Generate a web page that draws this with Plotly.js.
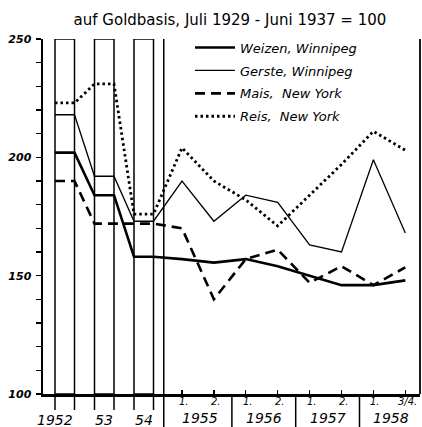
<!DOCTYPE html>
<html>
<head>
<meta charset="utf-8">
<script src="https://cdn.plot.ly/plotly-3.0.1.min.js"></script>
<style>html,body{margin:0;padding:0;background:#fff}#chart{width:422px;height:427px}</style>
</head>
<body>
<div id="chart"></div>
<script>
// ---- data ----
const years = ['1952', '53', '54'];
const halfLabels = ['1.', '2.', '1.', '2.', '1.', '2.', '1.', '3/4.'];
const halfGroups = ['1955', '1956', '1957', '1958'];

const weizenYear = [202, 184, 158];
const weizenHalf = [157, 155.5, 157, 154, 150, 146, 146, 148];
const gersteYear = [218, 192, 173];
const gersteHalf = [190, 173, 184, 181, 163, 160, 199, 168];
const maisYear = [190, 172, 172];
const maisHalf = [170, 140, 157, 161, 147, 154, 146, 153.5];
const reisYear = [223, 231, 176];
const reisHalf = [204, 190, 182, 171, 184, 197, 211, 203];

const seriesNames = ['Weizen, Winnipeg', 'Gerste, Winnipeg', 'Mais,  New York', 'Reis,  New York'];

const yTickValues = [100, 110, 120, 130, 140, 150, 160, 170, 180, 190, 200, 210, 220, 230, 240, 250];

// ---- layout helpers (positions along the x scale) ----
const BAR0 = 12, BAR_STEP = 39.5, BAR_W = 19.5;
const H0 = 139, H_STEP = 31.9;
const barL = i => BAR0 + BAR_STEP * i;
const barR = i => barL(i) + BAR_W;
const barC = i => barL(i) + BAR_W / 2;
const hx = j => H0 + H_STEP * j;

function buildSeries(yearVals, halfVals) {
  const x = [], y = [];
  yearVals.forEach((v, i) => { x.push(barL(i), barR(i)); y.push(v, v); });
  halfVals.forEach((v, j) => { x.push(hx(j)); y.push(v); });
  return {x, y};
}

const styles = [
  {width: 2.6, dash: 'solid'},
  {width: 1.3, dash: 'solid'},
  {width: 2.6, dash: '10px,6px'},
  {width: 2.8, dash: '2.5px,3px'}
];
const allData = [[weizenYear, weizenHalf], [gersteYear, gersteHalf], [maisYear, maisHalf], [reisYear, reisHalf]];

const traces = [];
traces.push({
  type: 'bar',
  x: years.map((_, i) => barC(i)),
  y: years.map(() => 150),
  base: years.map(() => 100),
  width: BAR_W,
  marker: {color: 'white', line: {color: 'black', width: 1.5}},
  showlegend: false,
  hoverinfo: 'skip',
  cliponaxis: false
});
allData.forEach((d, k) => {
  const s = buildSeries(d[0], d[1]);
  traces.push({
    type: 'scatter', mode: 'lines',
    x: s.x, y: s.y, name: seriesNames[k],
    legendgroup: 'g' + k,
    line: {color: 'black', width: styles[k].width, dash: styles[k].dash},
    cliponaxis: false
  });
});

const labelFont = {family: 'DejaVu Sans', size: 14, color: 'black', style: 'italic'};
const annotations = [];
years.forEach((t, i) => {
  annotations.push({
    text: t, xref: 'x', yref: 'paper', x: i === 0 ? barR(i) : barC(i), y: 0,
    xanchor: i === 0 ? 'right' : 'center', yanchor: 'middle', yshift: -26,
    showarrow: false, font: labelFont
  });
});
halfLabels.forEach((t, j) => {
  annotations.push({
    text: t, xref: 'x', yref: 'paper', x: hx(j) + 2, y: 0,
    xanchor: 'center', yanchor: 'middle', yshift: -7,
    showarrow: false, font: {family: 'DejaVu Sans', size: 10, color: 'black', style: 'italic'}
  });
});
halfGroups.forEach((t, g) => {
  annotations.push({
    text: t, xref: 'x', yref: 'paper', x: (hx(2 * g) + hx(2 * g + 1)) / 2 + 2, y: 0,
    xanchor: 'center', yanchor: 'middle', yshift: -24,
    showarrow: false, font: labelFont
  });
});

const shapes = [];
years.forEach((_, i) => {
  [barL(i), barR(i)].forEach(xv => shapes.push({
    type: 'line', xref: 'x', yref: 'paper', x0: xv, x1: xv, y0: 0, y1: -0.045,
    line: {color: 'black', width: 1.5}
  }));
});
// separator between years and half-years, full height
const sep0 = (barR(2) + hx(0)) / 2 - 4;
shapes.push({type: 'line', xref: 'x', yref: 'paper', x0: sep0, x1: sep0, y0: 1, y1: -0.095, line: {color: 'black', width: 1.5}});
for (let g = 0; g < halfGroups.length - 1; g++) {
  const xs = hx(2 * g + 1) + 18;
  shapes.push({type: 'line', xref: 'x', yref: 'paper', x0: xs, x1: xs, y0: 0, y1: -0.095, line: {color: 'black', width: 1.5}});
}
// right border
shapes.push({type: 'line', xref: 'paper', yref: 'paper', x0: 1, x1: 1, y0: 0, y1: 1, line: {color: 'black', width: 1.8}});

const layout = {
  width: 422, height: 427,
  margin: {l: 43, r: 2, t: 39, b: 33},
  paper_bgcolor: 'white', plot_bgcolor: 'white',
  title: {
    text: 'auf Goldbasis, Juli 1929 - Juni 1937 = 100',
    font: {family: 'DejaVu Sans', size: 15, color: 'black'},
    x: 0.545, xanchor: 'center', y: 1 - 20 / 427, yanchor: 'middle', yref: 'container'
  },
  xaxis: {
    range: [0, 377], showgrid: false, zeroline: false,
    showline: true, linecolor: 'black', linewidth: 2.5,
    tickmode: 'array', tickvals: halfLabels.map((_, j) => hx(j)),
    ticks: 'inside', ticklen: 4, tickwidth: 1.3, tickcolor: 'black',
    showticklabels: false, fixedrange: true
  },
  yaxis: {
    range: [100, 250], showgrid: false, zeroline: false,
    showline: true, linecolor: 'black', linewidth: 2.5,
    tickmode: 'array', tickvals: yTickValues,
    ticktext: yTickValues.map(v => v % 50 === 0 ? String(v) : ''),
    ticks: 'outside', ticklen: 5, tickwidth: 1.5, tickcolor: 'black',
    ticklabelstandoff: 2,
    tickfont: {family: 'DejaVu Sans', size: 11, color: 'black', style: 'italic', weight: 'bold'},
    fixedrange: true
  },
  showlegend: true,
  legend: {
    x: (190 - 43) / 377, xanchor: 'left', y: 1.018, yanchor: 'top',
    bgcolor: 'rgba(0,0,0,0)', borderwidth: 0,
    traceorder: 'grouped', tracegroupgap: 3, itemwidth: 40,
    font: {family: 'DejaVu Sans', size: 13, color: 'black', style: 'italic'}
  },
  bargap: 0,
  annotations: annotations,
  shapes: shapes
};

Plotly.newPlot('chart', traces, layout, {staticPlot: true, displayModeBar: false});
</script>
</body>
</html>
